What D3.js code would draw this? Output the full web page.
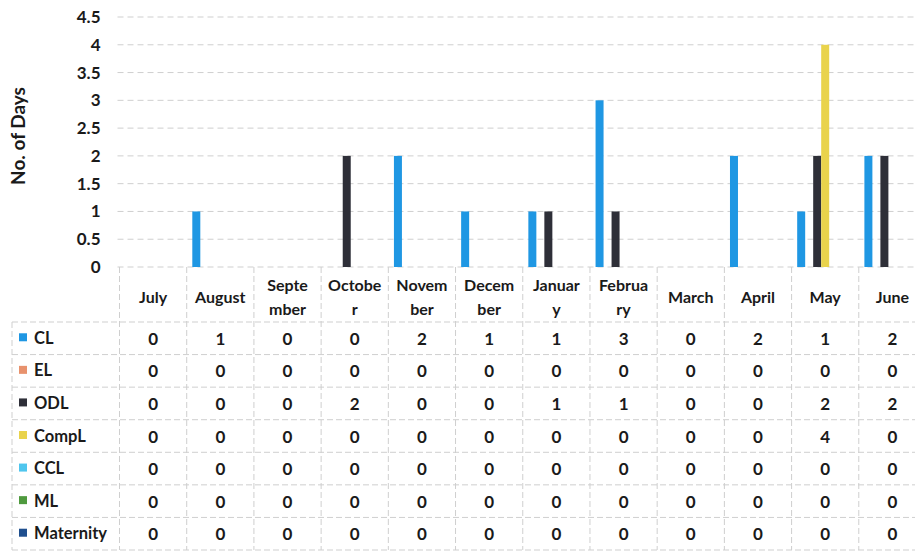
<!DOCTYPE html>
<html>
<head>
<meta charset="utf-8">
<script src="https://cdn.jsdelivr.net/npm/d3@7"></script>
<style>
  body { margin: 0; background: #fff; }
  text { font-family: Lato, "Open Sans", sans-serif; font-weight: bold; fill: #1a1a1a; }
</style>
</head>
<body>
<div id="chart"></div>
<script>
// Months (header labels, broken the way the table wraps them)
const months = ["July", "August", "September", "October", "November", "December",
  "January", "February", "March", "April", "May", "June"];
const monthLines = [["July"], ["August"], ["Septe", "mber"], ["Octobe", "r"], ["Novem", "ber"],
  ["Decem", "ber"], ["Januar", "y"], ["Februa", "ry"], ["March"], ["April"], ["May"], ["June"]];

const seriesNames = ["CL", "EL", "ODL", "CompL", "CCL", "ML", "Maternity"];
const seriesColors = ["#1f97e3", "#e8926d", "#2e2f38", "#e9d34c", "#4fc6ee", "#4f9a3e", "#1f4f8e"];

const CL        = [0, 1, 0, 0, 2, 1, 1, 3, 0, 2, 1, 2];
const EL        = [0, 0, 0, 0, 0, 0, 0, 0, 0, 0, 0, 0];
const ODL       = [0, 0, 0, 2, 0, 0, 1, 1, 0, 0, 2, 2];
const CompL     = [0, 0, 0, 0, 0, 0, 0, 0, 0, 0, 4, 0];
const CCL       = [0, 0, 0, 0, 0, 0, 0, 0, 0, 0, 0, 0];
const ML        = [0, 0, 0, 0, 0, 0, 0, 0, 0, 0, 0, 0];
const Maternity = [0, 0, 0, 0, 0, 0, 0, 0, 0, 0, 0, 0];

const yTicks = [0, 0.5, 1, 1.5, 2, 2.5, 3, 3.5, 4, 4.5];

const seriesValues = [CL, EL, ODL, CompL, CCL, ML, Maternity];

const W = 915, H = 552;
const left = 119.5, right = 926;
const yTop = 17, yBase = 267;
const headerBottom = 322, tableBottom = 550;

const svg = d3.select("#chart").append("svg")
  .attr("width", W).attr("height", H);

// Scales
const x0 = d3.scaleBand().domain(months).range([left, right]).padding(0);
const x1 = d3.scaleBand().domain(seriesNames).range([0, x0.bandwidth()])
  .paddingInner(0).paddingOuter(0.7);
const y = d3.scaleLinear().domain([0, 4.5]).range([yBase, yTop]);

// Gridlines
svg.append("g")
  .selectAll("line")
  .data(yTicks)
  .join("line")
  .attr("x1", left - 2).attr("x2", W)
  .attr("y1", d => y(d)).attr("y2", d => y(d))
  .attr("stroke", "#cfcfcf")
  .attr("stroke-width", 1)
  .attr("stroke-dasharray", "6,4");

// Y axis labels
const yAxis = svg.append("g")
  .attr("transform", `translate(${left - 19}, 0)`)
  .call(d3.axisLeft(y).tickValues(yTicks).tickSize(0).tickPadding(0).tickFormat(d3.format("")));
yAxis.select(".domain").remove();
yAxis.selectAll("text")
  .style("font-size", "17px")
  .style("font-family", "Lato, sans-serif")
  .style("font-weight", "bold")
  .attr("fill", "#1a1a1a");

// Y axis title
svg.append("text")
  .attr("transform", `translate(25, 136) rotate(-90)`)
  .attr("text-anchor", "middle")
  .style("font-size", "19px")
  .text("No. of Days");

// Bars
const barData = [];
months.forEach((m, i) => {
  seriesNames.forEach((s, j) => {
    barData.push({ month: m, series: s, value: seriesValues[j][i], color: seriesColors[j] });
  });
});
svg.append("g")
  .selectAll("rect")
  .data(barData.filter(d => d.value > 0))
  .join("rect")
  .attr("x", d => x0(d.month) + x1(d.series))
  .attr("width", x1.bandwidth())
  .attr("y", d => y(d.value))
  .attr("height", d => y(0) - y(d.value))
  .attr("fill", d => d.color);

// Data table grid
const rowH = (tableBottom - headerBottom) / seriesNames.length;
const grid = svg.append("g")
  .attr("stroke", "#cfcfcf")
  .attr("stroke-width", 1)
  .attr("stroke-dasharray", "6,3");

// vertical lines between month columns
grid.selectAll(".v")
  .data(months.map(m => x0(m)))
  .join("line")
  .attr("x1", d => d).attr("x2", d => d)
  .attr("y1", yBase).attr("y2", tableBottom);

// horizontal row lines
const rowEdges = d3.range(seriesNames.length + 1).map(i => headerBottom + i * rowH);
grid.selectAll(".h")
  .data(rowEdges)
  .join("line")
  .attr("x1", 12).attr("x2", W)
  .attr("y1", d => d).attr("y2", d => d);

// left edge of legend column
grid.append("line")
  .attr("x1", 12).attr("x2", 12)
  .attr("y1", headerBottom).attr("y2", tableBottom);

// Header labels
const header = svg.append("g");
monthLines.forEach((lines, i) => {
  const cx = x0(months[i]) + x0.bandwidth() / 2;
  const cy = (yBase + headerBottom) / 2 + 3;
  const t = header.append("text")
    .attr("x", cx)
    .attr("text-anchor", "middle")
    .style("font-size", "16px");
  lines.forEach((ln, k) => {
    t.append("tspan")
      .attr("x", cx)
      .attr("y", cy + 5 + (k - (lines.length - 1) / 2) * 24)
      .text(ln);
  });
});

// Legend + values
seriesNames.forEach((s, j) => {
  const cy = headerBottom + j * rowH + rowH / 2;
  svg.append("rect")
    .attr("x", 19).attr("y", cy - 5)
    .attr("width", 8).attr("height", 8)
    .attr("fill", seriesColors[j]);
  svg.append("text")
    .attr("x", 34).attr("y", cy + 5.5)
    .style("font-size", "16.5px")
    .text(s);
  svg.append("g")
    .selectAll("text")
    .data(seriesValues[j])
    .join("text")
    .attr("x", (d, i) => x0(months[i]) + x0.bandwidth() / 2)
    .attr("y", cy + 6.5)
    .attr("text-anchor", "middle")
    .style("font-size", "17px")
    .text(d => d);
});
</script>
</body>
</html>
